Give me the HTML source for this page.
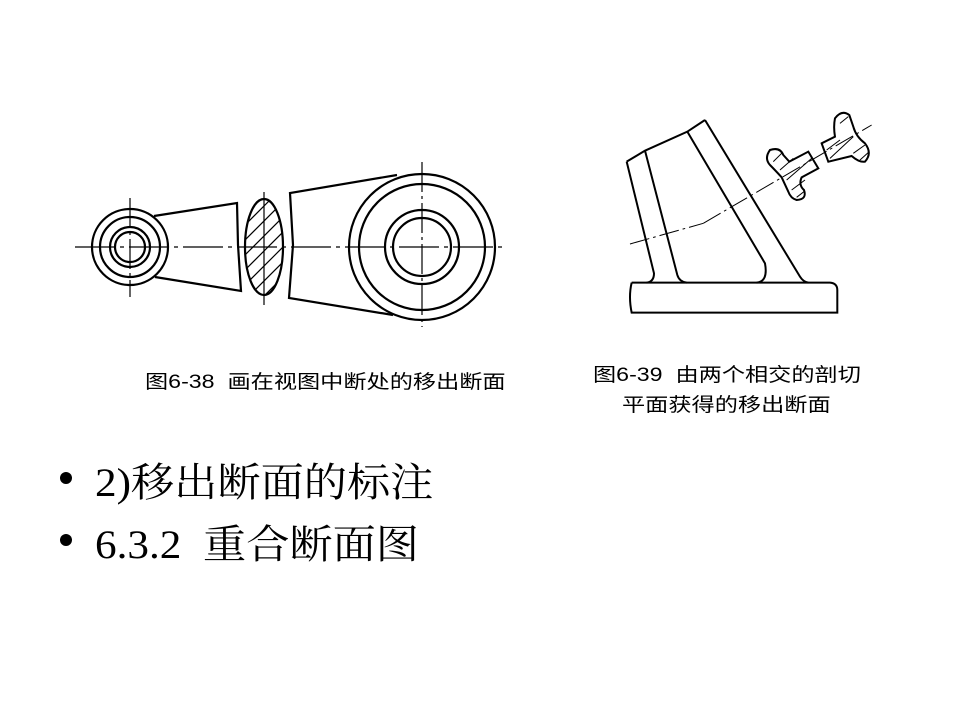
<!DOCTYPE html>
<html><head><meta charset="utf-8"><style>
html,body{margin:0;padding:0;background:#fff;}
body{width:960px;height:720px;position:relative;overflow:hidden;}
.cap{position:absolute;font-family:"Liberation Sans","Noto Sans CJK SC",sans-serif;font-size:19px;color:#000;white-space:nowrap;transform-origin:0 0;transform:scaleX(1.22);}
.bul{position:absolute;font-family:"Liberation Serif","Noto Serif CJK SC",serif;font-size:40px;color:#000;white-space:nowrap;transform-origin:0 0;transform:scaleX(1.08);}
.dot{position:absolute;width:12px;height:12px;border-radius:50%;background:#000;}
</style></head><body>
<svg width="960" height="720" style="position:absolute;left:0;top:0">
<defs>
<clipPath id="ec"><ellipse cx="264" cy="247" rx="19" ry="48"/></clipPath>
</defs>
<g fill="none" stroke="#000" stroke-width="2.2">
<line x1="75" y1="247" x2="507" y2="247" stroke-width="1.2" stroke-dasharray="40,5,4,5"/>
<line x1="130" y1="198" x2="130" y2="297" stroke-width="1.2" stroke-dasharray="30,4,3,4"/>
<line x1="264" y1="192" x2="264" y2="305" stroke-width="1.2"/>
<line x1="422" y1="162" x2="422" y2="327" stroke-width="1.2" stroke-dasharray="30,4,3,4"/>
<circle cx="130" cy="247" r="38"/>
<circle cx="130" cy="247" r="30"/>
<circle cx="130" cy="247" r="20"/>
<circle cx="130" cy="247" r="15"/>
<polyline points="154,216 237,203 238,245 241,291 155,277"/>
<ellipse cx="264" cy="247" rx="19" ry="48"/>
<g clip-path="url(#ec)" stroke-width="1.2">
<line x1="240" y1="230" x2="290" y2="180"/>
<line x1="240" y1="245" x2="290" y2="195"/>
<line x1="240" y1="260" x2="290" y2="210"/>
<line x1="240" y1="275" x2="290" y2="225"/>
<line x1="240" y1="290" x2="290" y2="240"/>
<line x1="240" y1="305" x2="290" y2="255"/>
<line x1="240" y1="320" x2="290" y2="270"/>
<line x1="240" y1="335" x2="290" y2="285"/>
</g>
<polyline points="397,175 290,193 293,245 289,298 393,315"/>
<circle cx="422" cy="247" r="73"/>
<circle cx="422" cy="247" r="63"/>
<circle cx="422" cy="247" r="37"/>
<circle cx="422" cy="247" r="29"/>
</g>
<g transform="translate(600,90) scale(0.3333)" fill="none" stroke="#000" stroke-width="6">
<path d="M95,578 L690,578 Q712,580 712,600 L712,668 L95,668 Q85,620 95,578"/>
<polyline points="80,215 135,182 262,125 315,90"/>
<path d="M315,90 L600,560 Q610,576 625,578"/>
<path d="M80,215 L162,550 Q162,575 140,578"/>
<path d="M135,182 L232,555 Q238,575 260,578"/>
<path d="M262,125 L495,520 Q505,575 470,578"/>
<polyline points="90,462 310,400" stroke-width="3" stroke-dasharray="60,12,8,12"/>
<polyline points="310,400 815,105" stroke-width="3" stroke-dasharray="60,12,8,12"/>
<path d="M510,180 Q540,170 550,195 L568,215 L625,185 L655,235 L605,262 Q595,285 612,300 Q622,328 590,330 Q572,325 565,305 L545,262 Q525,240 510,225 Q492,205 510,180 Z"/>
<path d="M665,160 L705,140 Q700,110 705,85 Q725,58 748,75 L760,110 Q768,140 795,160 Q818,190 795,215 Q778,218 755,198 L685,215 Z"/>
<g stroke-width="3">
<line x1="520" y1="215" x2="545" y2="190"/>
<line x1="540" y1="240" x2="580" y2="205"/>
<line x1="560" y1="270" x2="635" y2="205"/>
<line x1="575" y1="300" x2="615" y2="270"/>
<line x1="590" y1="322" x2="612" y2="305"/>
<line x1="680" y1="180" x2="720" y2="150"/>
<line x1="690" y1="205" x2="760" y2="140"/>
<line x1="720" y1="100" x2="745" y2="80"/>
<line x1="760" y1="190" x2="795" y2="165"/>
<line x1="780" y1="210" x2="808" y2="185"/>
</g>
</g>
</svg>
<div class="cap" style="left:145px;top:367px;">图6-38&nbsp; 画在视图中断处的移出断面</div>
<div class="cap" style="left:593px;top:360px;">图6-39&nbsp; 由两个相交的剖切</div>
<div class="cap" style="left:622px;top:390px;">平面获得的移出断面</div>
<div class="dot" style="left:60px;top:472px;"></div>
<div class="bul" style="left:95px;top:451px;">2)移出断面的标注</div>
<div class="dot" style="left:60px;top:534px;"></div>
<div class="bul" style="left:95px;top:513px;">6.3.2&nbsp; 重合断面图</div>
</body></html>
